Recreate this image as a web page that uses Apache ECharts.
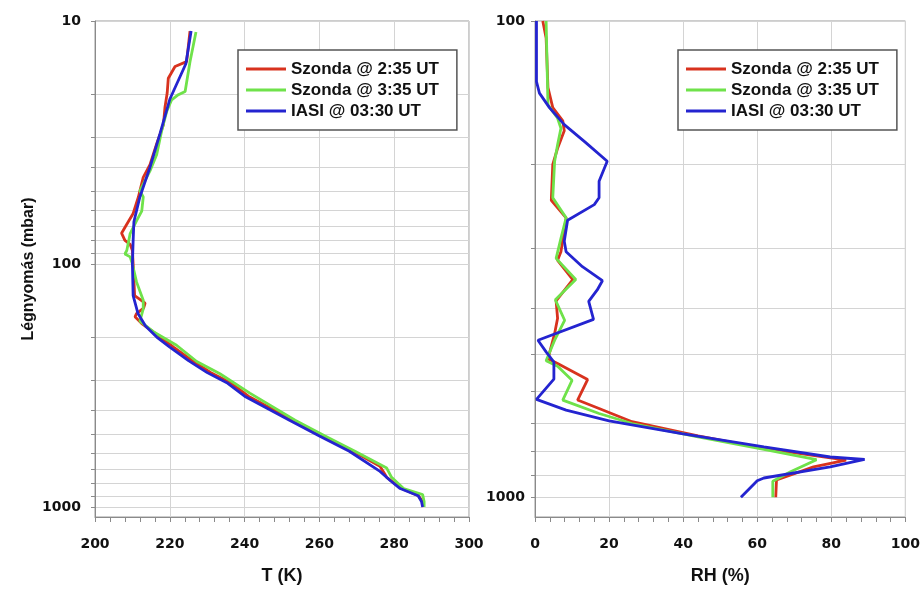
<!DOCTYPE html>
<html>
<head>
<meta charset="utf-8">
<script src="https://cdn.jsdelivr.net/npm/echarts@6/dist/echarts.min.js"></script>
<style>
html,body{margin:0;padding:0;background:#fff;}
#chart{width:923px;height:590px;}
</style>
</head>
<body>
<div id="chart"></div>
<script>
// ---- Names ----
const seriesNames = ['Szonda @ 2:35 UT', 'Szonda @ 3:35 UT', 'IASI @ 03:30 UT'];

// ---- Temperature panel (P in mbar, T in K) ----
const tRedP = [11, 14.7, 15.4, 17.2, 19.8, 22.7, 26.7, 32, 39, 44, 53, 62, 68.6, 74.7, 80, 83, 88, 100, 135, 145, 152, 160, 165, 176, 190, 220, 250, 280, 310, 350, 440, 510, 590, 680, 755, 840, 900, 950, 1000];
const tRedT = [225.4, 224.5, 221.4, 219.6, 219.3, 218.7, 218.3, 216.5, 214.7, 212.9, 211.6, 210.2, 208.5, 207.1, 208, 209.4, 210, 210.2, 210.6, 213.4, 213, 211.1, 210.7, 212.5, 215.5, 221, 226, 231, 236.5, 241, 253, 261, 269, 276.2, 278, 282, 286.5, 287.6, 287.8];

const tGreenP = [11.1, 14.7, 19.5, 20.1, 21.1, 23.5, 28.4, 35.4, 41.4, 46.9, 50, 53, 60.6, 66.5, 75, 88, 91, 93.5, 100, 118.5, 141, 153, 172, 190, 216, 252, 283, 340, 440, 510, 590, 692, 755, 840, 890, 950, 1000];
const tGreenT = [227, 225.4, 224.1, 222.3, 220.5, 219.2, 217.8, 216.5, 214.7, 212.9, 212, 212.9, 212.5, 211.1, 209.4, 208.5, 208, 209.4, 210, 211.1, 212.9, 212.9, 212, 215.6, 221.8, 227.2, 233.4, 241.4, 253.5, 261.5, 269.5, 278, 279.3, 282.5, 287.6, 288, 288];

const tBlueP = [11, 15, 21, 29, 40, 53, 67, 80, 100, 135, 160, 180, 200, 220, 250, 280, 310, 350, 440, 510, 590, 710, 780, 840, 900, 950, 1000];
const tBlueT = [225.7, 224.3, 220, 217.4, 214.7, 212, 210.4, 210.2, 210, 210.2, 211.5, 213.5, 216.5, 220, 225, 230, 235.5, 240, 252, 260, 268, 276, 279, 281.6, 286.4, 287.3, 287.6];

// ---- Relative humidity panel (P in mbar, RH in %) ----
const rhRedP = [100, 108.6, 138, 152, 162, 170, 185, 200, 238, 259, 305, 318, 349, 387, 421, 453, 512, 524, 566, 625, 651, 694, 743, 789, 836, 863, 920, 1000];
const rhRedV = [2.1, 3, 3.5, 4.8, 7.5, 7.9, 6.1, 4.8, 4.4, 8.4, 7, 6.1, 10.2, 5.7, 6.1, 5.3, 3.5, 6.1, 14.2, 11.5, 17.3, 26.2, 44, 61.8, 84, 75.2, 65.2, 65];

const rhGreenP = [100, 150, 160, 168, 182, 197, 235, 259, 286, 315, 349, 385, 425, 468, 517, 531, 568, 625, 667, 700, 747, 793, 834, 884, 925, 1000];
const rhGreenV = [3, 3.5, 6.1, 7, 6.1, 5.3, 4.8, 8.4, 7, 5.7, 11, 5.5, 8, 5.3, 3, 6.1, 10, 7.5, 17.3, 26.2, 44, 61.8, 76, 69, 64.2, 64.2];

const rhBlueP = [100, 134, 141.7, 152, 165, 180, 197, 217, 235, 243, 262, 290, 305, 328, 351, 367, 388, 423, 468, 495, 520, 565, 623, 656, 691, 735, 784, 823, 833, 863, 911, 923, 1000];
const rhBlueV = [0.4, 0.4, 1.2, 3.9, 7.9, 13.7, 19.5, 17.3, 17.3, 16, 8.8, 7.9, 8.4, 12.8, 18.2, 16.8, 14.5, 15.8, 0.8, 3, 5.1, 5.1, 0.4, 8.4, 20, 39.6, 61.8, 79.7, 89, 79.7, 61.8, 60, 55.6];

// ---- Axis ticks ----
const tTicks = [200, 220, 240, 260, 280, 300];
const rhTicks = [0, 20, 40, 60, 80, 100];
const pGridLeft = [10, 20, 30, 40, 50, 60, 70, 80, 90, 100, 200, 300, 400, 500, 600, 700, 800, 900, 1000];
const pLabelsLeft = [10, 100, 1000];
const pGridRight = [100, 200, 300, 400, 500, 600, 700, 800, 900, 1000];
const pLabelsRight = [100, 1000];

const colors = ['#d8321e', '#6fe24a', '#2424d0'];

function pairs(xs, ps) { return ps.map((p, i) => [xs[i], p]); }

const chart = echarts.init(document.getElementById('chart'), null, {renderer: 'canvas'});

const tickFont = {fontFamily: 'DejaVu Sans', fontWeight: 'bold', fontSize: 14, color: '#111'};
const nameFont = {fontFamily: 'Liberation Sans', fontWeight: 'bold', fontSize: 18, color: '#111'};
const gridLine = {show: true, lineStyle: {color: '#d4d4d4', width: 1}};
const axisLine = {show: true, lineStyle: {color: '#8a8a8a', width: 1}};
const plainNum = v => String(Math.round(v));

function xAxisDef(idx, ticks, name) {
  return {
    type: 'value', gridIndex: idx, min: ticks[0], max: ticks[ticks.length - 1],
    interval: ticks[1] - ticks[0],
    name: name, nameLocation: 'middle', nameGap: 50, nameTextStyle: nameFont,
    axisLine: axisLine,
    axisTick: {show: true, length: 5, lineStyle: {color: '#8a8a8a'}},
    minorTick: {show: true, splitNumber: 5, length: 5, lineStyle: {color: '#8a8a8a'}},
    splitLine: gridLine,
    axisLabel: Object.assign({margin: 20, formatter: plainNum}, tickFont)
  };
}

function yAxisDef(idx, minV, gridVals, labelVals, margin, name) {
  const ax = {
    type: 'log', logBase: 10, gridIndex: idx, min: minV, max: 1100, inverse: true,
    axisLine: axisLine,
    axisTick: {show: true, length: 4, customValues: gridVals, lineStyle: {color: '#8a8a8a'}},
    splitLine: gridLine,
    axisLabel: Object.assign({margin: margin, customValues: labelVals, formatter: plainNum}, tickFont)
  };
  if (name) {
    ax.name = name; ax.nameLocation = 'middle'; ax.nameGap = 58; ax.nameRotate = 90;
    ax.nameTextStyle = Object.assign({}, nameFont, {fontSize: 16});
  }
  return ax;
}

function legendDef(left) {
  return {
    data: seriesNames, orient: 'vertical', left: left, top: 50,
    icon: 'rect', itemWidth: 40, itemHeight: 3, itemGap: 3,
    padding: [10, 18, 10, 8],
    borderColor: '#555', borderWidth: 1.5, backgroundColor: '#fff',
    textStyle: {fontFamily: 'Liberation Sans', fontWeight: 'bold', fontSize: 17, color: '#111', lineHeight: 18},
    selectedMode: false
  };
}

function lineSeries(name, ci, xi, data) {
  return {
    type: 'line', name: name, xAxisIndex: xi, yAxisIndex: xi, data: data,
    showSymbol: false, symbol: 'none', color: colors[ci],
    lineStyle: {width: 2.8, color: colors[ci]}, z: 3 + ci, animation: false
  };
}

chart.setOption({
  animation: false,
  backgroundColor: '#fff',
  grid: [
    {left: 95, top: 21, width: 374, height: 497, show: true, borderColor: '#9a9a9a', borderWidth: 1},
    {left: 535, top: 21, width: 374, height: 497, show: true, borderColor: '#9a9a9a', borderWidth: 1}
  ],
  xAxis: [xAxisDef(0, tTicks, 'T (K)'), xAxisDef(1, rhTicks, 'RH (%)')],
  yAxis: [
    yAxisDef(0, 10, pGridLeft, pLabelsLeft, 14, 'Légnyomás (mbar)'),
    yAxisDef(1, 100, pGridRight, pLabelsRight, 10, null)
  ],
  legend: [legendDef(238), legendDef(678)],
  series: [
    lineSeries(seriesNames[0], 0, 0, pairs(tRedT, tRedP)),
    lineSeries(seriesNames[1], 1, 0, pairs(tGreenT, tGreenP)),
    lineSeries(seriesNames[2], 2, 0, pairs(tBlueT, tBlueP)),
    lineSeries(seriesNames[0], 0, 1, pairs(rhRedV, rhRedP)),
    lineSeries(seriesNames[1], 1, 1, pairs(rhGreenV, rhGreenP)),
    lineSeries(seriesNames[2], 2, 1, pairs(rhBlueV, rhBlueP))
  ]
});
</script>
</body>
</html>
